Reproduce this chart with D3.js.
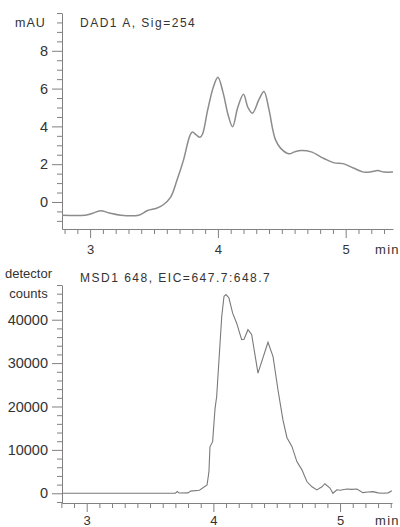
<!DOCTYPE html>
<html><head><meta charset="utf-8">
<script src="https://cdn.jsdelivr.net/npm/d3@7"></script>
<style>
body{margin:0;background:#fff;}
svg{display:block;font-family:"Liberation Sans",Arial,sans-serif;}
</style></head><body>
<svg id="c" width="400" height="527"></svg>
<script>
// ---- DATA ----
const dadTime = [2.78, 2.96, 3.02, 3.08, 3.15, 3.24, 3.38, 3.45, 3.52, 3.57, 3.63, 3.68, 3.73, 3.78, 3.80, 3.83, 3.86, 3.88, 3.92, 3.965, 4.00, 4.04, 4.08, 4.115, 4.155, 4.20, 4.235, 4.27, 4.32, 4.36, 4.40, 4.43, 4.45, 4.49, 4.555, 4.60, 4.65, 4.73, 4.83, 4.91, 4.98, 5.06, 5.14, 5.20, 5.25, 5.30, 5.37];
const dadSignal = [-0.70, -0.70, -0.60, -0.46, -0.58, -0.70, -0.70, -0.45, -0.33, -0.16, 0.26, 1.16, 2.2, 3.5, 3.7, 3.55, 3.42, 3.6, 4.87, 6.1, 6.6, 5.8, 4.6, 3.98, 5.0, 5.7, 5.0, 4.7, 5.4, 5.84, 4.87, 3.8, 3.3, 2.85, 2.55, 2.65, 2.72, 2.65, 2.3, 2.07, 2.03, 1.8, 1.58, 1.6, 1.66, 1.58, 1.58];
const msdTime = [2.805, 3.70, 3.715, 3.73, 3.80, 3.82, 3.89, 3.95, 3.965, 3.973, 3.994, 4.013, 4.026, 4.066, 4.084, 4.10, 4.123, 4.152, 4.184, 4.223, 4.242, 4.273, 4.302, 4.352, 4.431, 4.471, 4.51, 4.549, 4.581, 4.62, 4.659, 4.699, 4.738, 4.778, 4.817, 4.857, 4.88, 4.92, 4.944, 4.975, 5.0, 5.054, 5.09, 5.133, 5.18, 5.22, 5.26, 5.30, 5.338, 5.38, 5.409];
const msdCounts = [0, 0, 400, 50, 100, 500, 700, 1900, 5000, 10700, 11900, 19500, 22300, 40800, 45400, 45800, 45000, 41500, 39200, 35400, 35500, 37700, 36600, 27700, 34800, 31500, 23800, 16900, 12800, 10800, 7300, 5400, 2700, 1500, 770, 1500, 2200, 1200, 0, 800, 700, 1000, 900, 1000, 150, 300, 370, 100, 0, 100, 600];
const timeTicks = [3, 4, 5];
const dadTicks = [0, 2, 4, 6, 8];
const msdTicks = [0, 10000, 20000, 30000, 40000];
const dadTitle = "DAD1 A, Sig=254";
const msdTitle = "MSD1 648, EIC=647.7:648.7";

const svg = d3.select("#c");
const axisCol = "#808080", textCol = "#333";

function panel(cfg){
  const x = d3.scaleLinear().domain(cfg.xDom).range([62, cfg.xEnd]);
  const y = d3.scaleLinear().domain(cfg.yDom).range([cfg.yBottom, cfg.yTop]);
  const g = svg.append("g");
  const xMinor = d3.range(28, 55).map(v=>v/10).filter(v=>v>=cfg.xDom[0]-0.01 && v<=cfg.xDom[1]+0.01 && !timeTicks.includes(v));
  g.append("g").attr("transform",`translate(0,${cfg.yBottom})`)
    .call(d3.axisBottom(x).tickValues(xMinor).tickSize(5).tickSizeOuter(0).tickFormat(""))
    .call(s=>{s.select(".domain").attr("stroke",axisCol);s.selectAll("line").attr("stroke",axisCol);});
  g.append("g").attr("transform",`translate(0,${cfg.yBottom})`)
    .call(d3.axisBottom(x).tickValues(timeTicks).tickSize(9).tickSizeOuter(0).tickFormat(d3.format("d")))
    .call(s=>{s.select(".domain").remove();s.selectAll("line").attr("stroke",axisCol);
      s.selectAll("text").attr("fill",textCol).attr("font-size",13).attr("font-family","Liberation Sans, Arial").attr("y",null).attr("dy",null).attr("transform",`translate(0,${cfg.xLabBase-cfg.yBottom})`);});
  g.append("text").attr("x",375).attr("y",cfg.xLabBase).attr("font-size",13).attr("letter-spacing",1.3).attr("fill",textCol).text("min");
  g.append("g").attr("transform","translate(62,0)")
    .call(d3.axisLeft(y).tickValues(cfg.yMinor).tickSize(5).tickSizeOuter(0).tickFormat(""))
    .call(s=>{s.select(".domain").attr("stroke",axisCol);s.selectAll("line").attr("stroke",axisCol);});
  g.append("g").attr("transform","translate(62,0)")
    .call(d3.axisLeft(y).tickValues(cfg.yTicks).tickSize(10).tickSizeOuter(0).tickPadding(4).tickFormat(d3.format("d")))
    .call(s=>{s.select(".domain").remove();s.selectAll("line").attr("stroke",axisCol);
      s.selectAll("text").attr("fill",textCol).attr("font-size",14.5).attr("font-family","Liberation Sans, Arial");});
  const data = cfg.t.map((t,i)=>[t,cfg.v[i]]);
  g.append("path").datum(data).attr("fill","none").attr("stroke",cfg.col).attr("stroke-width",cfg.w)
    .attr("d", d3.line().x(d=>x(d[0])).y(d=>y(d[1])).curve(cfg.curve));
  g.append("text").attr("x",80).attr("y",cfg.titleY).attr("font-size",12).attr("letter-spacing",1.5).attr("fill",textCol).text(cfg.title);
  return g;
}

panel({xDom:[2.78,5.37], xEnd:393, yDom:[-1.43,10], yBottom:229, yTop:13,
  yTicks:dadTicks, yMinor:d3.range(-2,21).map(v=>v/2).filter(v=>v>=-1.43 && !dadTicks.includes(v)),
  t:dadTime, v:dadSignal, col:"#8c8c8c", w:1.5, curve:d3.curveCatmullRom.alpha(0.5),
  title:dadTitle, titleY:27, xLabBase:254});
svg.append("text").attr("x",15).attr("y",27).attr("font-size",12.5).attr("letter-spacing",1).attr("fill",textCol).text("mAU");

panel({xDom:[2.805,5.41], xEnd:392, yDom:[-2240,48000], yBottom:503, yTop:285,
  yTicks:msdTicks, yMinor:d3.range(-1,25).map(v=>v*2000).filter(v=>!msdTicks.includes(v)),
  t:msdTime, v:msdCounts, col:"#7a7a7a", w:1.1, curve:d3.curveLinear,
  title:msdTitle, titleY:282, xLabBase:525});
svg.append("text").attr("x",28.5).attr("y",278).attr("text-anchor","middle").attr("font-size",13).attr("fill",textCol).text("detector");
svg.append("text").attr("x",28.5).attr("y",298).attr("text-anchor","middle").attr("font-size",13).attr("fill",textCol).text("counts");
</script>
</body></html>
